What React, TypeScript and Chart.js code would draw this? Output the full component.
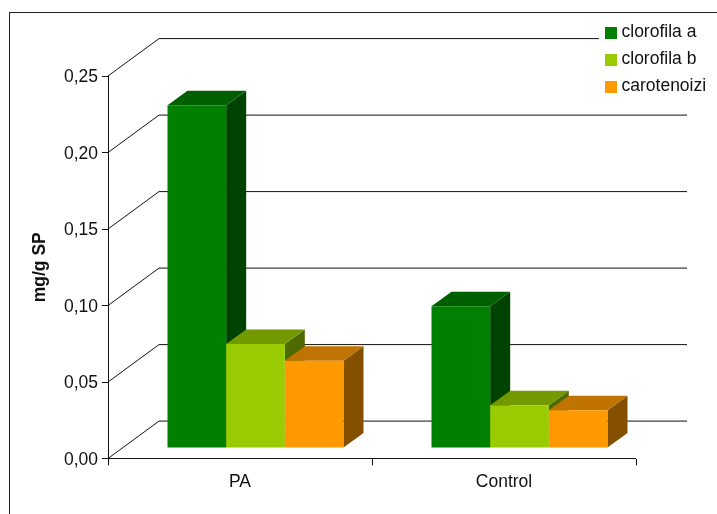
import React, { useEffect, useRef } from "react";
import { Chart, registerables } from "chart.js";

Chart.register(...registerables);

const categories = ["PA", "Control"];
const clorofilaA = [0.224, 0.0926];
const clorofilaB = [0.068, 0.028];
const carotenoizi = [0.057, 0.0246];
const yTickLabels = ["0,00", "0,05", "0,10", "0,15", "0,20", "0,25"];
const yTitle = "mg/g SP";

const FONT = '"Liberation Sans", Arial, sans-serif';
const FONT_SIZE = 17.5;
const TEXT = "#111111";

// Floor and wall of the pseudo-3D box, and the bars' place inside it.
const WALL_DX = 51;
const WALL_DY = 37.4;
const BAR_SHIFT_X = 15.5;
const BAR_SHIFT_Y = 10.5;
const BAR_DEPTH_X = 20;
const BAR_DEPTH_Y = 14.5;
const Y_LABEL_NUDGE = 1.5;

const seriesStyle = [
  { label: "clorofila a", data: clorofilaA, front: "#008000", top: "#006000", side: "#004300" },
  { label: "clorofila b", data: clorofilaB, front: "#99CC00", top: "#739900", side: "#4F6A00" },
  { label: "carotenoizi", data: carotenoizi, front: "#FF9900", top: "#BF7300", side: "#845000" },
];

// Centres the value labels optically on their tick marks.
const labelNudge = {
  id: "labelNudge",
  beforeDraw(chart: any) {
    chart.scales.y.getLabelItems(chart.chartArea).forEach((item: any) => {
      item.options.translation[1] += Y_LABEL_NUDGE;
    });
  },
};

const backdrop = {
  id: "backdrop",
  beforeDatasetsDraw(chart: any) {
    const { ctx, chartArea, scales } = chart;
    ctx.save();
    ctx.strokeStyle = "#111111";
    ctx.lineWidth = 1;
    scales.y.ticks.forEach((tick: any) => {
      const y = scales.y.getPixelForValue(tick.value);
      ctx.beginPath();
      ctx.moveTo(chartArea.left, y);
      ctx.lineTo(chartArea.left + WALL_DX, y - WALL_DY);
      ctx.lineTo(chartArea.right + WALL_DX, y - WALL_DY);
      ctx.stroke();
    });
    const floor = scales.y.getPixelForValue(0);
    ctx.beginPath();
    ctx.moveTo(chartArea.left, floor);
    ctx.lineTo(chartArea.right, floor);
    ctx.stroke();
    ctx.restore();
  },
};

// Paints the series left to right, so each bar hides the side face of the one before it.
const extrudedBars = {
  id: "extrudedBars",
  beforeDatasetsDraw(chart: any) {
    const { ctx } = chart;
    chart.getSortedVisibleDatasetMetas().forEach((meta: any) => {
      const style = seriesStyle[meta.index];
      ctx.save();
      ctx.translate(BAR_SHIFT_X, -BAR_SHIFT_Y);
      meta.data.forEach((bar: any) => {
        const { x, y, base, width } = bar.getProps(["x", "y", "base", "width"], true);
        const left = x - width / 2;
        const right = x + width / 2;
        ctx.fillStyle = style.side;
        ctx.beginPath();
        ctx.moveTo(right, y);
        ctx.lineTo(right + BAR_DEPTH_X, y - BAR_DEPTH_Y);
        ctx.lineTo(right + BAR_DEPTH_X, base - BAR_DEPTH_Y);
        ctx.lineTo(right, base);
        ctx.closePath();
        ctx.fill();
        ctx.fillStyle = style.top;
        ctx.beginPath();
        ctx.moveTo(left, y);
        ctx.lineTo(left + BAR_DEPTH_X, y - BAR_DEPTH_Y);
        ctx.lineTo(right + BAR_DEPTH_X, y - BAR_DEPTH_Y);
        ctx.lineTo(right, y);
        ctx.closePath();
        ctx.fill();
      });
      meta.controller.draw();
      ctx.restore();
    });
    return false;
  },
};

// Legend block over the wall, and the thin frame running off the canvas edges.
const legendAndFrame = {
  id: "legendAndFrame",
  afterDraw(chart: any) {
    const { ctx } = chart;
    ctx.save();
    ctx.fillStyle = "#ffffff";
    ctx.fillRect(599, 20, 118, 80);
    ctx.font = `${FONT_SIZE}px ${FONT}`;
    ctx.textBaseline = "middle";
    chart.data.datasets.forEach((ds: any, i: number) => {
      const y = 27 + i * 27;
      ctx.fillStyle = ds.backgroundColor;
      ctx.fillRect(605, y, 12, 12);
      ctx.fillStyle = TEXT;
      ctx.fillText(ds.label, 621.5, y + 5.5);
    });
    ctx.strokeStyle = "#222222";
    ctx.lineWidth = 1;
    ctx.strokeRect(9.5, 12.5, 800, 600);
    ctx.restore();
  },
};

export default function App() {
  const canvasRef = useRef<HTMLCanvasElement>(null);

  useEffect(() => {
    const chart = new Chart(canvasRef.current as HTMLCanvasElement, {
      type: "bar",
      data: {
        labels: categories,
        datasets: seriesStyle.map((s) => ({
          label: s.label,
          data: s.data,
          backgroundColor: s.front,
          borderWidth: 0,
          barPercentage: 1,
          categoryPercentage: 2 / 3,
        })),
      },
      options: {
        responsive: false,
        animation: false,
        layout: { padding: { left: 30, top: 76, right: 81, bottom: 0 } },
        plugins: { legend: { display: false }, tooltip: { enabled: false } },
        scales: {
          x: {
            border: { display: false },
            grid: { drawOnChartArea: false, drawTicks: true, tickLength: 7, tickColor: "#111111" },
            ticks: {
              color: TEXT,
              font: { family: FONT, size: FONT_SIZE },
              padding: 6,
              maxRotation: 0,
            },
            afterFit(scale: any) {
              scale.height = 55.5;
            },
          },
          y: {
            min: 0,
            max: 0.25,
            border: { display: true, color: "#111111" },
            grid: { drawOnChartArea: false, drawTicks: true, tickLength: 6, tickColor: "#111111" },
            ticks: {
              stepSize: 0.05,
              color: TEXT,
              font: { family: FONT, size: FONT_SIZE },
              padding: 4,
              callback: (_v: any, i: number) => yTickLabels[i],
            },
            title: {
              display: true,
              text: yTitle,
              color: TEXT,
              font: { family: FONT, size: FONT_SIZE, weight: "bold" },
              padding: 0,
            },
            afterFit(scale: any) {
              scale.width = 78;
            },
          },
        },
      },
      plugins: [labelNudge, backdrop, extrudedBars, legendAndFrame],
    } as any);
    return () => chart.destroy();
  }, []);

  return (
    <div style={{ position: "fixed", left: 0, top: 0, width: 717, height: 514, background: "#fff" }}>
      <canvas ref={canvasRef} width={717} height={514} style={{ display: "block" }} />
    </div>
  );
}
